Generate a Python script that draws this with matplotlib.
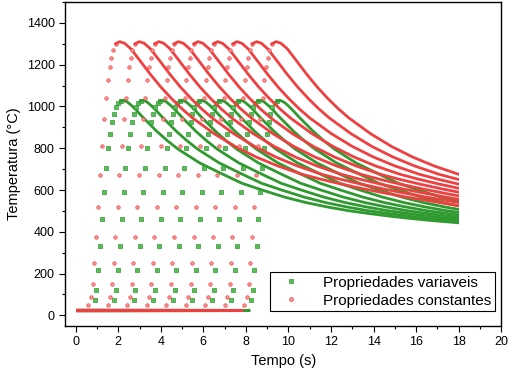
import matplotlib
matplotlib.use("Agg")
import matplotlib.pyplot as plt
from matplotlib.patches import Rectangle
from matplotlib.ticker import MultipleLocator

RED = "#ee4040"; RED_FILL = "#f79a9a"
GREEN = "#2f9a2f"; GREEN_FILL = "#5cbc5c"
plt.rcParams.update({"font.family": ["Liberation Sans", "DejaVu Sans"], "font.size": 9})

T_START = 25          # initial temperature (C)
T_END = 18.0          # last recorded time (s)

# onset (s) of each of the 9 curves, read from where they leave 25 C
onsets_var = [0.82, 1.74, 2.66, 3.58, 4.50, 5.42, 6.33, 7.25, 8.17]
onsets_const = [0.50, 1.42, 2.34, 3.26, 4.18, 5.10, 6.01, 6.93, 7.85]

# heating (sparse samples) -- time after onset (s), temperature (C)
rise_tau_var = [0.07, 0.15, 0.23, 0.34, 0.42, 0.51, 0.60, 0.70, 0.80, 0.90, 0.98, 1.08, 1.19, 1.31]
rise_T_var = [72, 122, 218, 334, 460, 592, 703, 799, 870, 926, 966, 997, 1016, 1026]
rise_tau_const = [0.08, 0.20, 0.30, 0.36, 0.44, 0.55, 0.64, 0.74, 0.83, 0.94, 1.02, 1.10, 1.18, 1.25, 1.38]
rise_T_const = [49, 87, 152, 252, 376, 519, 671, 811, 939, 1041, 1125, 1188, 1233, 1268, 1300]

# cooling (dense band) -- time after onset (s), temperature (C)
cool_tau_var = [1.31, 1.43, 1.6, 1.8, 2.0, 2.3, 2.66, 3.0, 3.5, 4.0, 5.0, 6.0, 7.0, 8.0,
                9.0, 10.0, 11.0, 12.0, 13.0, 14.0, 15.0, 16.0, 17.2]
cool_T_var = [1026, 1029, 1022, 1005, 985, 952, 915, 880, 835, 795, 730, 680, 632, 598,
              566, 540, 519, 501, 487, 474, 463, 453, 443]
cool_tau_const = [1.38, 1.57, 1.8, 2.1, 2.5, 3.0, 3.5, 4.0, 4.5, 5.0, 6.0, 7.0, 8.0, 9.0,
                  10.15, 11.0, 12.0, 13.0, 14.0, 15.0, 16.0, 17.0, 17.6]
cool_T_const = [1300, 1310, 1302, 1275, 1222, 1155, 1093, 1038, 988, 944, 870, 808, 757, 715,
                675, 652, 628, 606, 586, 567, 550, 533, 523]

fig = plt.figure(figsize=(5.12, 3.82), dpi=100)
ax = fig.add_axes([0.127, 0.147, 0.852, 0.848])
clip = Rectangle((-1, -100), 1 + T_END, 2000, transform=ax.transData)


def draw(onsets, rise_tau, rise_T, cool_tau, cool_T, color, fill, marker, ms):
    for t0 in onsets:
        ax.plot([0, t0], [T_START, T_START], color=color, lw=2.2, solid_capstyle="butt")
        ax.plot([t0 + s for s in rise_tau], rise_T, ls="none", marker=marker, ms=ms,
                mfc=fill, mec=color, mew=0.5)
        line, = ax.plot([t0 + s for s in cool_tau], cool_T, color=color, lw=2.0)
        line.set_clip_path(clip)


draw(onsets_var, rise_tau_var, rise_T_var, cool_tau_var, cool_T_var,
     GREEN, GREEN_FILL, "s", 2.2)
draw(onsets_const, rise_tau_const, rise_T_const, cool_tau_const, cool_T_const,
     RED, RED_FILL, "o", 2.5)

ax.set_xlim(-0.5, 20)
ax.set_ylim(-50, 1500)
ax.xaxis.set_major_locator(MultipleLocator(2))
ax.xaxis.set_minor_locator(MultipleLocator(1))
ax.yaxis.set_major_locator(MultipleLocator(200))
ax.yaxis.set_minor_locator(MultipleLocator(100))
ax.set_yticks(range(0, 1401, 200))
ax.tick_params(which="major", direction="out", length=4, width=0.8, labelsize=9)
ax.tick_params(which="minor", direction="out", length=2.5, width=0.8)
for s in ax.spines.values():
    s.set_linewidth(1.0)
ax.set_xlabel("Tempo (s)", fontsize=10.5)
ax.set_ylabel("Temperatura (°C)", fontsize=10.5)

h1, = ax.plot([], [], ls="none", marker="s", ms=2.6, mfc=GREEN_FILL, mec=GREEN, mew=0.5)
h2, = ax.plot([], [], ls="none", marker="o", ms=2.8, mfc=RED_FILL, mec=RED, mew=0.5)
leg = ax.legend([h1, h2], ["Propriedades variaveis", "Propriedades constantes"],
                loc="lower right", bbox_to_anchor=(0.993, 0.035), fontsize=11,
                fancybox=False, edgecolor="black", framealpha=1, handletextpad=1.0,
                borderpad=0.25, labelspacing=0.25, handlelength=2.2, borderaxespad=0.2)
leg.get_frame().set_linewidth(0.8)

fig.savefig("out.png", dpi=100)
